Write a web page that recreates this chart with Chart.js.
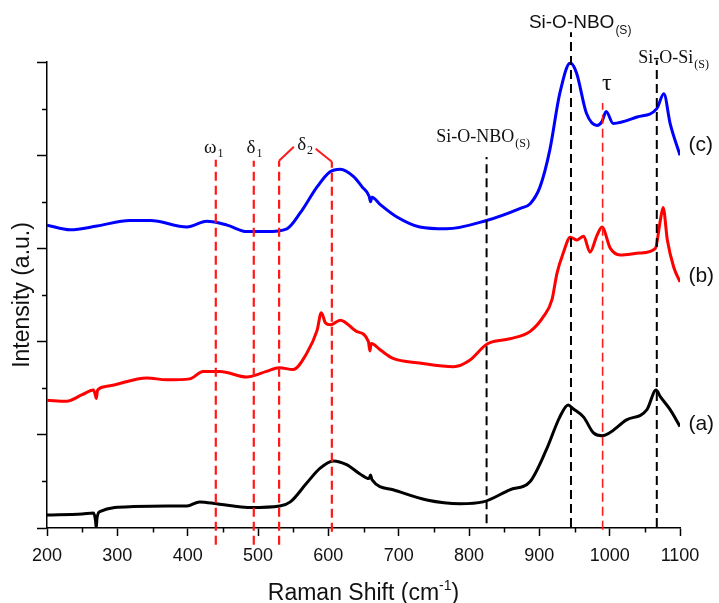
<!DOCTYPE html>
<html>
<head>
<meta charset="utf-8">
<script src="https://cdn.jsdelivr.net/npm/chart.js@4.4.1/dist/chart.umd.min.js"></script>
<style>
  html, body { margin: 0; padding: 0; background: #ffffff; }
</style>
</head>
<body>
<canvas id="raman" width="719" height="603"></canvas>
<script>
// Raman spectra (a), (b), (c)
const shiftA = [200, 250, 266, 269, 270, 271, 275, 323, 370, 399, 417, 441, 465, 489, 531, 546, 569, 588, 607, 626, 645, 658, 660, 662, 692, 740, 787, 820, 858, 887, 910, 929, 941, 948, 963, 977, 989, 1024, 1053, 1066, 1072, 1086, 1100];
const intensityA = [0.14, 0.15, 0.16, 0.08, 0.0, 0.1, 0.175, 0.23, 0.236, 0.236, 0.28, 0.26, 0.236, 0.22, 0.236, 0.28, 0.48, 0.64, 0.72, 0.68, 0.58, 0.53, 0.57, 0.52, 0.41, 0.30, 0.26, 0.28, 0.41, 0.50, 0.84, 1.19, 1.32, 1.28, 1.19, 1.02, 0.99, 1.16, 1.27, 1.48, 1.41, 1.27, 1.09];

const shiftB = [200, 228, 250, 266, 269, 270, 272, 285, 342, 370, 403, 422, 446, 484, 512, 530, 550, 569, 584, 590, 596, 603, 617, 640, 657, 659, 661, 674, 692, 730, 778, 801, 823, 830, 858, 887, 906, 918, 925, 934, 944, 953, 963, 972, 982, 989, 1001, 1015, 1043, 1065, 1072, 1076, 1082, 1091, 1100];
const intensityB = [1.37, 1.36, 1.43, 1.48, 1.42, 1.39, 1.48, 1.52, 1.61, 1.59, 1.60, 1.68, 1.68, 1.62, 1.68, 1.72, 1.70, 1.87, 2.12, 2.31, 2.20, 2.18, 2.23, 2.11, 2.0, 1.90, 1.98, 1.91, 1.82, 1.77, 1.73, 1.80, 1.96, 1.99, 2.03, 2.11, 2.27, 2.45, 2.73, 2.95, 3.12, 3.09, 3.13, 2.96, 3.14, 3.23, 3.00, 2.93, 2.95, 3.00, 3.30, 3.44, 3.09, 2.80, 2.64];

const shiftC = [200, 233, 271, 318, 347, 399, 427, 456, 484, 512, 541, 560, 584, 602, 617, 636, 648, 658, 660, 662, 674, 697, 730, 768, 825, 873, 887, 901, 915, 929, 944, 953, 967, 982, 989, 995, 1005, 1039, 1067, 1077, 1086, 1100];
const intensityC = [3.25, 3.20, 3.24, 3.30, 3.30, 3.23, 3.29, 3.25, 3.18, 3.18, 3.21, 3.38, 3.66, 3.82, 3.85, 3.77, 3.66, 3.56, 3.50, 3.55, 3.47, 3.34, 3.23, 3.21, 3.30, 3.43, 3.48, 3.66, 4.06, 4.66, 4.99, 4.88, 4.45, 4.32, 4.36, 4.47, 4.34, 4.41, 4.50, 4.66, 4.34, 4.00];

// band markers (dashed lines): position, top, bottom
const redBandShift = [440, 494, 530, 605];
const redBandTop = [3.95, 3.94, 3.94, 3.93];
const redBandBottom = [-0.18, -0.18, -0.18, -0.04];
const tauShift = [990];
const tauTop = [4.56];
const tauBottom = [-0.02];
const blackBandShift = [825, 945, 1067];
const blackBandTop = [3.98, 5.32, 5.02];
const blackBandBottom = [0.05, 0.01, 0.01];

// δ2 bracket
const bracketLeftX = [530, 551];
const bracketLeftY = [3.94, 4.09];
const bracketRightX = [582, 605];
const bracketRightY = [4.07, 3.93];

// axis ticks
const shiftTicks = [200, 300, 400, 500, 600, 700, 800, 900, 1000, 1100];
const shiftMinorTicks = [250, 350, 450, 550, 650, 750, 850, 950, 1050];
const intensityMinorTicks = [0.5, 1.5, 2.5, 3.5, 4.5];

// annotation labels (x in cm-1, y in intensity units, baseline)
const greekText = ['ω', 'δ', 'δ', 'τ'];
const greekSub = ['1', '1', '2', ''];
const greekShift = [437, 495, 567, 996];
const greekLevel = [4.02, 4.02, 4.06, 4.70];

const bondText = ['Si-O-NBO', 'Si-O-Si'];
const bondShift = [820, 1091];
const bondLevel = [4.145, 4.99];

const curveNames = ['(c)', '(b)', '(a)'];
const curveLevel = [4.04, 2.64, 1.05];
const curveNameShift = 1112;

const topBandText = 'Si-O-NBO';
const topBandShift = 958;
const topBandLevel = 5.36;

function pairs(xs, ys) {
    return xs.map((x, i) => ({ x: x, y: ys[i] }));
}

function curveDataset(label, xs, ys, color) {
    return {
        label: label,
        data: pairs(xs, ys),
        borderColor: color,
        borderWidth: 3,
        pointRadius: 0,
        cubicInterpolationMode: 'monotone',
        fill: false,
        order: 3
    };
}

function markerDatasets(xs, tops, bottoms, color, width) {
    return xs.map((x, i) => ({
        data: [{ x: x, y: bottoms[i] }, { x: x, y: tops[i] }],
        borderColor: color,
        borderWidth: width,
        borderDash: [9, 5],
        pointRadius: 0,
        clip: false,
        order: 1
    }));
}

const datasets = [
    curveDataset('(a)', shiftA, intensityA, '#000000'),
    curveDataset('(b)', shiftB, intensityB, '#ff0000'),
    curveDataset('(c)', shiftC, intensityC, '#0000ff'),
    ...markerDatasets(redBandShift, redBandTop, redBandBottom, '#ff1a1a', 2.2),
    ...markerDatasets(tauShift, tauTop, tauBottom, '#ff1a1a', 1.6),
    ...markerDatasets(blackBandShift, blackBandTop, blackBandBottom, '#000000', 2),
    { data: pairs(bracketLeftX, bracketLeftY), borderColor: '#ff1a1a', borderWidth: 2, pointRadius: 0, clip: false, order: 1 },
    { data: pairs(bracketRightX, bracketRightY), borderColor: '#ff1a1a', borderWidth: 2, pointRadius: 0, clip: false, order: 1 }
];

// text with subscript, centered on cx
function drawSubText(ctx, cx, y, main, sub, font, subFont, subDrop) {
    ctx.font = font;
    const w1 = ctx.measureText(main).width;
    ctx.font = subFont;
    const w2 = sub ? ctx.measureText(sub).width + 1 : 0;
    const x0 = cx - (w1 + w2) / 2;
    ctx.textAlign = 'left';
    ctx.textBaseline = 'alphabetic';
    ctx.font = font;
    ctx.fillText(main, x0, y);
    if (sub) {
        ctx.font = subFont;
        ctx.fillText(sub, x0 + w1 + 1, y + subDrop);
    }
}

const overlayPlugin = {
    id: 'overlay',
    afterDraw(chart) {
        const { ctx, scales: { x, y } } = chart;
        ctx.save();
        ctx.strokeStyle = '#000000';
        ctx.lineWidth = 1.5;

        // minor ticks
        shiftMinorTicks.forEach(v => {
            const px = Math.round(x.getPixelForValue(v)) + 0.5;
            ctx.beginPath();
            ctx.moveTo(px, y.bottom);
            ctx.lineTo(px, y.bottom + 4.5);
            ctx.stroke();
        });
        intensityMinorTicks.forEach(v => {
            const py = Math.round(y.getPixelForValue(v)) + 0.5;
            ctx.beginPath();
            ctx.moveTo(x.left, py);
            ctx.lineTo(x.left - 5, py);
            ctx.stroke();
        });

        ctx.fillStyle = '#111111';
        const serif = "'Liberation Serif', 'Times New Roman', serif";
        const sans = "'Liberation Sans', Arial, sans-serif";

        // greek labels
        greekText.forEach((t, i) => {
            const size = t === 'τ' ? 24 : 19;
            drawSubText(ctx, x.getPixelForValue(greekShift[i]), y.getPixelForValue(greekLevel[i]),
                t, greekSub[i], size + 'px ' + serif, '12px ' + serif, 4);
        });

        // bond labels
        bondText.forEach((t, i) => {
            drawSubText(ctx, x.getPixelForValue(bondShift[i]), y.getPixelForValue(bondLevel[i]),
                t, '(S)', '18px ' + serif, '12px ' + serif, 5);
        });
        drawSubText(ctx, x.getPixelForValue(topBandShift), y.getPixelForValue(topBandLevel),
            topBandText, '(S)', '19px ' + sans, '12px ' + sans, 6);

        // curve names
        ctx.font = '21px ' + sans;
        ctx.textAlign = 'left';
        ctx.textBaseline = 'alphabetic';
        curveNames.forEach((t, i) => {
            ctx.fillText(t, x.getPixelForValue(curveNameShift), y.getPixelForValue(curveLevel[i]));
        });

        // x axis title with superscript
        const cx = (x.left + x.right) / 2;
        const base = 600;
        ctx.font = '23px ' + sans;
        const partA = 'Raman Shift (cm';
        const wA = ctx.measureText(partA).width;
        const wC = ctx.measureText(')').width;
        ctx.font = '14px ' + sans;
        const wB = ctx.measureText('-1').width;
        let sx = cx - (wA + wB + wC) / 2;
        ctx.font = '23px ' + sans;
        ctx.fillText(partA, sx, base);
        ctx.font = '14px ' + sans;
        ctx.fillText('-1', sx + wA, base - 10);
        ctx.font = '23px ' + sans;
        ctx.fillText(')', sx + wA + wB, base);

        ctx.restore();
    }
};

new Chart(document.getElementById('raman'), {
    type: 'line',
    data: { datasets: datasets },
    options: {
        responsive: false,
        animation: false,
        layout: { padding: { left: 0, right: 39, top: 62, bottom: 0 } },
        plugins: { legend: { display: false }, tooltip: { enabled: false } },
        scales: {
            x: {
                type: 'linear',
                min: 200,
                max: 1100,
                afterFit: scale => { scale.height = 75; },
                afterBuildTicks: scale => { scale.ticks = shiftTicks.map(v => ({ value: v })); },
                ticks: {
                    color: '#111111',
                    font: { family: "'Liberation Sans', Arial, sans-serif", size: 18 },
                    padding: 9,
                    maxRotation: 0,
                    autoSkip: false,
                    callback: v => String(v)
                },
                grid: { drawOnChartArea: false, tickLength: 8, tickColor: '#000000', tickWidth: 1.5 },
                border: { color: '#000000', width: 1.5 }
            },
            y: {
                min: 0,
                max: 5,
                afterFit: scale => { scale.width = 47; },
                ticks: { stepSize: 1, callback: () => '' },
                grid: { drawOnChartArea: false, tickLength: 10, tickColor: '#000000', tickWidth: 1.5 },
                border: { color: '#000000', width: 1.5 },
                title: {
                    display: true,
                    text: 'Intensity (a.u.)',
                    color: '#111111',
                    font: { family: "'Liberation Sans', Arial, sans-serif", size: 23 },
                    padding: { top: 9, bottom: 0 }
                }
            }
        }
    },
    plugins: [overlayPlugin]
});
</script>
</body>
</html>
